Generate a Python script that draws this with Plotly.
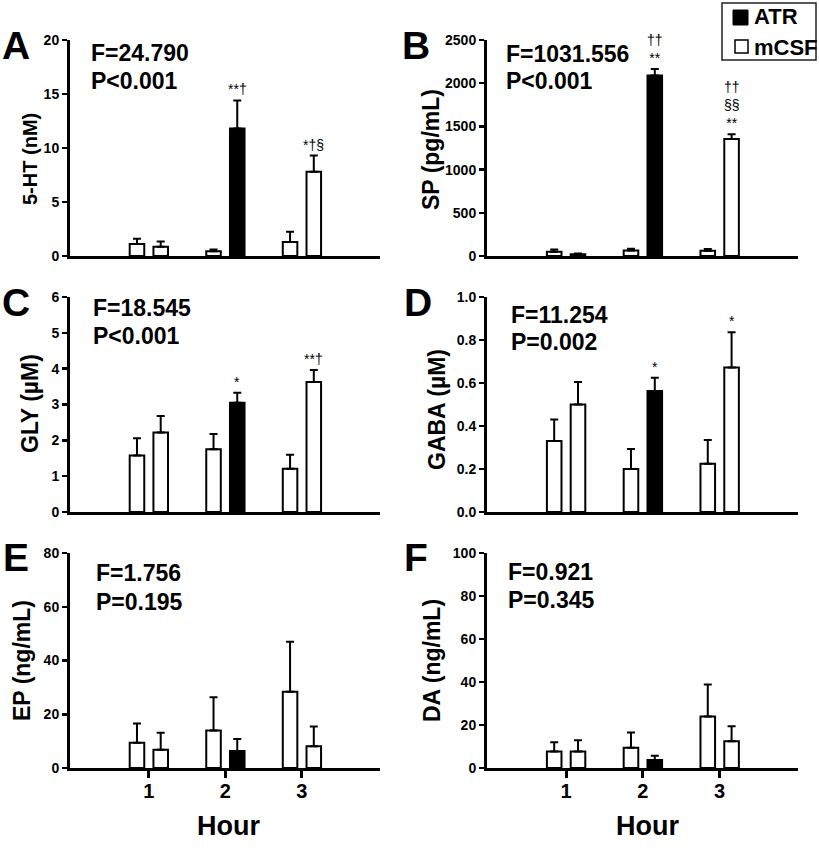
import plotly.graph_objects as go

FONT = "Liberation Sans, Arial, sans-serif"

hours = [1, 2, 3]
hour_labels = ["1", "2", "3"]

# Panel A: 5-HT (nM)
ht_first = [1.1, 0.45, 1.3]
ht_first_err = [0.5, 0.15, 0.95]
ht_second = [0.85, 11.8, 7.8]
ht_second_err = [0.5, 2.6, 1.5]
ht_sig = ["", "**†", "*†§"]

# Panel B: SP (pg/mL)
sp_first = [50, 65, 60]
sp_first_err = [25, 20, 20]
sp_second = [20, 2090, 1355]
sp_second_err = [8, 75, 55]
sp_sig = ["", "††<br>**", "††<br>§§<br>**"]

# Panel C: GLY (µM)
gly_first = [1.58, 1.75, 1.21]
gly_first_err = [0.48, 0.43, 0.39]
gly_second = [2.22, 3.05, 3.63]
gly_second_err = [0.46, 0.28, 0.33]
gly_sig = ["", "*", "**†"]

# Panel D: GABA (µM)
gaba_first = [0.33, 0.20, 0.225]
gaba_first_err = [0.10, 0.093, 0.11]
gaba_second = [0.50, 0.563, 0.672]
gaba_second_err = [0.105, 0.061, 0.164]
gaba_sig = ["", "*", "*"]

# Panel E: EP (ng/mL)
ep_first = [9.4, 14.0, 28.4]
ep_first_err = [7.2, 12.3, 18.6]
ep_second = [6.8, 6.3, 8.1]
ep_second_err = [6.3, 4.5, 7.3]

# Panel F: DA (ng/mL)
da_first = [7.7, 9.4, 23.9]
da_first_err = [4.3, 7.1, 14.9]
da_second = [7.7, 3.7, 12.5]
da_second_err = [5.2, 2.0, 6.9]

panel_letters = ["A", "B", "C", "D", "E", "F"]
y_titles = ["5-HT (nM)", "SP (pg/mL)", "GLY (µM)", "GABA (µM)", "EP (ng/mL)", "DA (ng/mL)"]
y_ranges = [20, 2500, 6, 1.0, 80, 100]
y_dticks = [5, 500, 1, 0.2, 20, 20]
f_stats = ["F=24.790", "F=1031.556", "F=18.545", "F=11.254", "F=1.756", "F=0.921"]
p_stats = ["P&lt;0.001", "P&lt;0.001", "P&lt;0.001", "P=0.002", "P=0.195", "P=0.345"]
legend_names = ["ATR", "mCSF"]

# style for the second bar of each hour (hour 2 is the ATR bar)
second_colors = ["white", "black", "white"]

W, H = 819, 848
def px_x(v):
    return v / W
def px_y(v):
    return 1 - v / H

col_dom = [[px_x(70), px_x(380)], [px_x(487), px_x(798)]]
row_dom = [[px_y(256), px_y(40)], [px_y(512), px_y(297)], [px_y(768), px_y(553)]]

panels = [
    (ht_first, ht_first_err, ht_second, ht_second_err, ht_sig),
    (sp_first, sp_first_err, sp_second, sp_second_err, sp_sig),
    (gly_first, gly_first_err, gly_second, gly_second_err, gly_sig),
    (gaba_first, gaba_first_err, gaba_second, gaba_second_err, gaba_sig),
    (ep_first, ep_first_err, ep_second, ep_second_err, None),
    (da_first, da_first_err, da_second, da_second_err, None),
]

BAR_W = 0.19
OFF1 = -0.25
OFF2 = 0.06

fig = go.Figure()
annotations = []
shapes = []

letter_pos = [(0, 45), (400, 46), (0, 302), (402, 303), (1, 557), (402, 557)]
title_pos = [(30, 159, 20), (431, 150, 23), (30, 404, 23), (437, 410, 23), (22, 661, 23), (432, 661, 23)]
stat_pos = [(89, 53, 81), (504, 54, 81), (91, 308, 336), (509, 315, 342), (94, 573, 602), (506, 572, 600)]

for i, (m1, e1, m2, e2, sig) in enumerate(panels):
    r, c = i // 2, i % 2
    ax = "" if i == 0 else str(i + 1)
    xref, yref = "x" + ax, "y" + ax
    fig.add_trace(go.Bar(
        x=hours, y=m1, width=BAR_W, offset=OFF1,
        marker=dict(color="white", line=dict(color="black", width=2)),
        error_y=dict(type="data", array=e1, arrayminus=[0] * len(e1), symmetric=False,
                     color="black", thickness=2, width=4),
        xaxis=xref, yaxis=yref, showlegend=False, name="first"))
    fig.add_trace(go.Bar(
        x=hours, y=m2, width=BAR_W, offset=OFF2,
        marker=dict(color=second_colors, line=dict(color="black", width=2)),
        error_y=dict(type="data", array=e2, arrayminus=[0] * len(e2), symmetric=False,
                     color="black", thickness=2, width=4),
        xaxis=xref, yaxis=yref, showlegend=False, name="second"))

    bottom = (r == 2)
    xa = dict(domain=col_dom[c], range=[-0.03, 4.02], showline=True, linewidth=3, linecolor="black",
              showgrid=False, zeroline=False, tickvals=hours, ticktext=hour_labels,
              showticklabels=bottom, ticks="outside" if bottom else "", ticklen=7, tickwidth=3,
              tickcolor="black", tickfont=dict(family=FONT, size=20, color="black", weight="bold"),
              ticklabelstandoff=-4, anchor=yref, fixedrange=True)
    ya = dict(domain=row_dom[r], range=[0, y_ranges[i]], dtick=y_dticks[i], showline=True, linewidth=3,
              linecolor="black", showgrid=False, zeroline=False, ticks="outside", ticklen=5, tickwidth=2.5,
              tickcolor="black", tickfont=dict(family=FONT, size=14, color="black", weight="bold"),
              anchor=xref, fixedrange=True)
    if i == 3:
        ya["tickformat"] = ".1f"
    fig.layout["xaxis" + ax] = xa
    fig.layout["yaxis" + ax] = ya

    if sig:
        for h, m, e, s in zip(hours, m2, e2, sig):
            if not s:
                continue
            annotations.append(dict(x=h + OFF2 + BAR_W / 2, y=m + e, xref=xref, yref=yref,
                                    text=s, showarrow=False, yanchor="bottom", xanchor="center",
                                    yshift=1, font=dict(family=FONT, size=14, color="black")))

    lx, ly = letter_pos[i]
    annotations.append(dict(x=px_x(lx), y=px_y(ly), xref="paper", yref="paper", text=panel_letters[i],
                            showarrow=False, xanchor="left", yanchor="middle",
                            font=dict(family=FONT, size=39, color="black", weight="bold")))
    tx, ty, ts = title_pos[i]
    annotations.append(dict(x=px_x(tx), y=px_y(ty), xref="paper", yref="paper", text=y_titles[i],
                            showarrow=False, xanchor="center", yanchor="middle", textangle=-90,
                            font=dict(family=FONT, size=ts, color="black", weight="bold")))
    sx, fy, py = stat_pos[i]
    annotations.append(dict(x=px_x(sx), y=px_y(fy), xref="paper", yref="paper", text=f_stats[i],
                            showarrow=False, xanchor="left", yanchor="middle",
                            font=dict(family=FONT, size=23, color="black", weight="bold")))
    annotations.append(dict(x=px_x(sx), y=px_y(py), xref="paper", yref="paper", text=p_stats[i],
                            showarrow=False, xanchor="left", yanchor="middle",
                            font=dict(family=FONT, size=23, color="black", weight="bold")))

for xc in (228, 647):
    annotations.append(dict(x=px_x(xc), y=px_y(826), xref="paper", yref="paper", text="Hour",
                            showarrow=False, xanchor="center", yanchor="middle",
                            font=dict(family=FONT, size=27, color="black", weight="bold")))

# legend (drawn by hand to match the reference box)
shapes.append(dict(type="rect", xref="paper", yref="paper", x0=px_x(722), x1=px_x(816), y0=px_y(60), y1=px_y(3),
                   line=dict(color="#222222", width=1.5), fillcolor="white", layer="below"))
shapes.append(dict(type="rect", xref="paper", yref="paper", x0=px_x(733), x1=px_x(748), y0=px_y(25), y1=px_y(10),
                   line=dict(color="black", width=1), fillcolor="black"))
shapes.append(dict(type="rect", xref="paper", yref="paper", x0=px_x(735), x1=px_x(748), y0=px_y(53), y1=px_y(40),
                   line=dict(color="black", width=1.5), fillcolor="white"))
for name, yc in zip(legend_names, (17, 47)):
    annotations.append(dict(x=px_x(752), y=px_y(yc), xref="paper", yref="paper", text=name,
                            showarrow=False, xanchor="left", yanchor="middle",
                            font=dict(family=FONT, size=22, color="black", weight="bold")))

fig.update_layout(
    width=W, height=H,
    margin=dict(l=0, r=0, t=0, b=0, autoexpand=False),
    paper_bgcolor="white", plot_bgcolor="white",
    showlegend=False,
    annotations=annotations,
    shapes=shapes,
    font=dict(family=FONT, color="black"),
)

fig.write_html("out.html", config={"displayModeBar": False, "staticPlot": True},
               post_script="document.body.style.margin='0';document.body.style.overflow='hidden';")
